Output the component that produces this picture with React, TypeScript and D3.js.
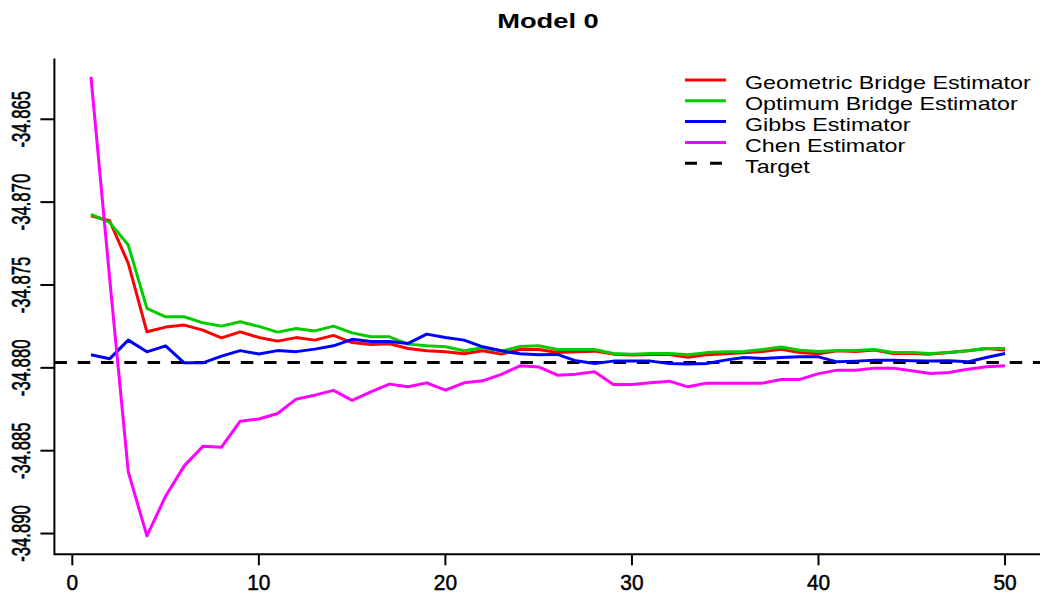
import React from "react";
import * as d3 from "d3";

const iterations: number[] = d3.range(1, 51);

const geometric: number[] = [
  -34.870821, -34.871123, -34.873696, -34.877826, -34.877542, -34.877421, -34.877723, -34.878188, -34.877832, -34.878164,
  -34.878388, -34.878176, -34.878327, -34.878043, -34.878478, -34.878587, -34.878551, -34.878829, -34.878973, -34.879034,
  -34.879155, -34.878973, -34.879173, -34.878889, -34.878889, -34.87907, -34.879034, -34.878992, -34.879173, -34.879233,
  -34.879191, -34.879191, -34.879366, -34.879215, -34.879155, -34.879094, -34.87901, -34.878883, -34.87907, -34.879155,
  -34.878973, -34.87901, -34.878931, -34.87913, -34.87913, -34.879173, -34.87907, -34.878973, -34.878829, -34.878931,
];

const optimum: number[] = [
  -34.870737, -34.87122, -34.872591, -34.876413, -34.87692, -34.87692, -34.877283, -34.877482, -34.877222, -34.8775,
  -34.877844, -34.877621, -34.877772, -34.877482, -34.877892, -34.878128, -34.878128, -34.878569, -34.878671, -34.878732,
  -34.878973, -34.878792, -34.878992, -34.878708, -34.878671, -34.878889, -34.878889, -34.878889, -34.87913, -34.879173,
  -34.87913, -34.87913, -34.879215, -34.879082, -34.879034, -34.87901, -34.878889, -34.878738, -34.878943, -34.87901,
  -34.878949, -34.878949, -34.878889, -34.87907, -34.87907, -34.87913, -34.87907, -34.878973, -34.878829, -34.878829,
];

const gibbs: number[] = [
  -34.879215, -34.879457, -34.878327, -34.879034, -34.878671, -34.879698, -34.879698, -34.879293, -34.878961, -34.879161,
  -34.878961, -34.879022, -34.878871, -34.878671, -34.878279, -34.878406, -34.878406, -34.878527, -34.877965, -34.878164,
  -34.878327, -34.878732, -34.878973, -34.879155, -34.879215, -34.879191, -34.879577, -34.879734, -34.879595, -34.879595,
  -34.879595, -34.879734, -34.879764, -34.879734, -34.879535, -34.879372, -34.879432, -34.879372, -34.879336, -34.879336,
  -34.879638, -34.879595, -34.879535, -34.879535, -34.879577, -34.879595, -34.879577, -34.879638, -34.879372, -34.87913,
];

const chen: number[] = [
  -34.862446, -34.874583, -34.88628, -34.890145, -34.887748, -34.885918, -34.884728, -34.884789, -34.883219, -34.883086,
  -34.882754, -34.88189, -34.881649, -34.881359, -34.881963, -34.881449, -34.880984, -34.881147, -34.880906, -34.881347,
  -34.880906, -34.880785, -34.880399, -34.879879, -34.879946, -34.880441, -34.88038, -34.880242, -34.881002, -34.881002,
  -34.880906, -34.880803, -34.881147, -34.880924, -34.880924, -34.880924, -34.880924, -34.8807, -34.8807, -34.88035,
  -34.880139, -34.880139, -34.880018, -34.880018, -34.880181, -34.880338, -34.880278, -34.880079, -34.87994, -34.879879,
];

const target = -34.879674;

const seriesNames: string[] = [
  "Geometric Bridge Estimator",
  "Optimum Bridge Estimator",
  "Gibbs Estimator",
  "Chen Estimator",
];
const seriesColors: string[] = ["#FF0000", "#00CD00", "#0000FF", "#FF00FF"];
const targetLabel = "Target";
const title = "Model 0";

const xTicks: number[] = [0, 10, 20, 30, 40, 50];
const yTicks: number[] = [-34.865, -34.87, -34.875, -34.88, -34.885, -34.89];

const W = 1040;
const H = 602;
const SX = 1.3; // horizontal stretch of the text
const FONT = "'Liberation Sans', Arial, Helvetica, sans-serif";

function padded(ext: [number, number]): [number, number] {
  const r = ext[1] - ext[0];
  return [ext[0] - 0.04 * r, ext[1] + 0.04 * r];
}

export default function App() {
  const allSeries = [geometric, optimum, gibbs, chen];
  const allVals = allSeries.flat();
  const yExt = d3.extent(allVals) as [number, number];
  const xExt = d3.extent(iterations) as [number, number];

  const plotLeft = 54.4;
  const plotRight = 1041.6;
  const plotTop = 58.6;
  const plotBottom = 554.3;

  const x = d3.scaleLinear().domain(padded(xExt)).range([plotLeft, plotRight]);
  const y = d3.scaleLinear().domain(padded(yExt)).range([plotBottom, plotTop]);

  const line = d3
    .line<number>()
    .x((_, i) => x(iterations[i]))
    .y((d) => y(d));

  const legendX = 685;
  const legendLineW = 41;
  const legendTextX = 745;
  const legendTop = 80;
  const legendStep = 20.8;
  const legendItems = [
    ...seriesNames.map((n, i) => ({ name: n, color: seriesColors[i], dash: false })),
    { name: targetLabel, color: "#000000", dash: true },
  ];

  return (
    <svg
      width={W}
      height={H}
      style={{ position: "absolute", left: 0, top: 0, background: "#fff" }}
      fontFamily={FONT}
    >
      <rect x={0} y={0} width={W} height={H} fill="#fff" />
      {/* title */}
      <text
        transform={`translate(${(plotLeft + plotRight) / 2},28) scale(${SX},1)`}
        textAnchor="middle"
        fontWeight="bold"
        fontSize={21}
      >
        {title}
      </text>

      {/* L box */}
      <path
        d={`M${plotLeft},${plotTop}V${plotBottom}H${plotRight}`}
        fill="none"
        stroke="#000"
        strokeWidth={2}
      />

      {/* x axis ticks */}
      {xTicks.map((t) => (
        <g key={`xt${t}`}>
          <line x1={x(t)} x2={x(t)} y1={plotBottom} y2={plotBottom + 11} stroke="#000" strokeWidth={2} />
          <text
            transform={`translate(${x(t)},590) scale(0.95,1)`}
            textAnchor="middle"
            fontSize={22}
            stroke="#000"
            strokeWidth={0.5}
          >
            {t}
          </text>
        </g>
      ))}

      {/* y axis ticks */}
      {yTicks.map((t) => (
        <g key={`yt${t}`}>
          <line x1={plotLeft - 14} x2={plotLeft} y1={y(t)} y2={y(t)} stroke="#000" strokeWidth={2} />
          <text
            transform={`translate(29.5,${y(t)}) scale(1.55,1) rotate(-90)`}
            textAnchor="middle"
            fontSize={16.7}
            stroke="#000"
            strokeWidth={0.4}
          >
            {t.toFixed(3)}
          </text>
        </g>
      ))}

      {/* target line */}
      <line
        x1={plotLeft}
        x2={plotRight}
        y1={y(target)}
        y2={y(target)}
        stroke="#000"
        strokeWidth={3}
        strokeDasharray="12.5,10.8"
      />

      {/* series */}
      {allSeries.map((s, i) => (
        <path
          key={seriesNames[i]}
          d={line(s) || ""}
          fill="none"
          stroke={seriesColors[i]}
          strokeWidth={3}
          strokeLinejoin="round"
        />
      ))}

      {/* legend */}
      {legendItems.map((it, i) => {
        const ly = legendTop + i * legendStep;
        return (
          <g key={`lg${i}`}>
            <line
              x1={legendX}
              x2={legendX + legendLineW}
              y1={ly}
              y2={ly}
              stroke={it.color}
              strokeWidth={3}
              strokeDasharray={it.dash ? "12,13" : undefined}
            />
            <text
              transform={`translate(${legendTextX},${ly + 9.3}) scale(${SX},1)`}
              fontSize={17.9}
            >
              {it.name}
            </text>
          </g>
        );
      })}
    </svg>
  );
}
